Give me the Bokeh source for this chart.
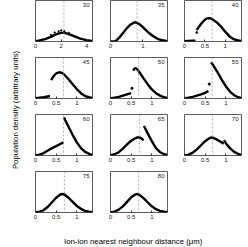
import numpy as np
from math import pi
from bokeh.plotting import figure
from bokeh.layouts import row, column
from bokeh.models import Label, Span, FixedTicker
from bokeh.embed import file_html
from bokeh.resources import INLINE

nan = np.nan

# ---- data, y in arbitrary units (0..1 of axis) ----
labels = ["30", "35", "40", "45", "50", "55", "60", "65", "70", "75", "80"]
x_max = [4.45, 1.76, 1.40, 1.38, 1.38, 1.38, 1.38, 1.38, 1.38, 1.38, 1.38]
dash_at = [2.22, 0.82, 0.68, 0.68, 0.68, 0.67, 0.68, 0.70, 0.68, 0.70, 0.68]
ticks = [[0, 2, 4], [0, 1]] + [[0, 0.5, 1]] * 9

x30 = [0, 0.25, 0.5, 0.75, 1.0, 1.25, 1.5, 1.75, 2.0, 2.25, 2.5, 2.75, 3.0, 3.25, 3.5, 3.75, 4.0, 4.25, 4.45]
y30 = [0.01, 0.02, 0.04, 0.06, 0.09, 0.12, 0.16, 0.19, 0.21, 0.21, 0.19, 0.16, 0.13, 0.10, 0.07, 0.05, 0.03, 0.02, 0.01]

x35 = [0, 0.1, 0.15, 0.2, 0.3, 0.4, 0.5, 0.6, 0.7, 0.75, 0.8, 0.9, 1.0, 1.1, 1.2, 1.3, 1.4, 1.5, 1.6, 1.76]
y35 = [0.0, 0.0, 0.01, 0.04, 0.12, 0.22, 0.32, 0.40, 0.45, 0.47, 0.46, 0.42, 0.35, 0.27, 0.20, 0.14, 0.09, 0.05, 0.03, 0.01]

x40 = [0, 0.1, 0.2, 0.27, nan, 0.3, 0.35, 0.4, 0.45, 0.5, 0.55, 0.6, 0.65, 0.7, 0.8, 0.9, 1.0, 1.1, 1.2, 1.3, 1.40]
y40 = [0.01, 0.015, 0.02, 0.02, nan, 0.28, 0.35, 0.42, 0.48, 0.53, 0.56, 0.57, 0.56, 0.53, 0.46, 0.36, 0.24, 0.13, 0.06, 0.03, 0.01]

x45 = [0, 0.1, 0.2, 0.3, 0.35, nan, 0.38, 0.42, 0.46, 0.5, 0.55, 0.6, 0.65, 0.7, 0.8, 0.9, 1.0, 1.1, 1.2, 1.3, 1.38]
y45 = [0.01, 0.02, 0.03, 0.05, 0.06, nan, 0.45, 0.52, 0.57, 0.61, 0.63, 0.64, 0.62, 0.58, 0.47, 0.35, 0.23, 0.13, 0.06, 0.03, 0.01]

x50 = [0, 0.1, 0.2, 0.3, 0.4, 0.5, nan, 0.55, 0.58, 0.61, 0.65, 0.7, 0.8, 0.9, 1.0, 1.1, 1.2, 1.3, 1.38]
y50 = [0.0, 0.02, 0.04, 0.07, 0.10, 0.13, nan, 0.68, 0.73, 0.74, 0.71, 0.64, 0.49, 0.35, 0.22, 0.13, 0.07, 0.03, 0.01]

x55 = [0, 0.1, 0.2, 0.3, 0.4, 0.5, 0.58, nan, 0.64, 0.67, 0.7, 0.8, 0.9, 1.0, 1.1, 1.2, 1.3, 1.38]
y55 = [0.0, 0.02, 0.04, 0.07, 0.10, 0.14, 0.18, nan, 0.88, 0.85, 0.80, 0.64, 0.46, 0.30, 0.17, 0.08, 0.03, 0.01]

x60 = [0, 0.1, 0.2, 0.3, 0.4, 0.5, 0.6, 0.68, nan, 0.69, 0.72, 0.8, 0.9, 1.0, 1.1, 1.2, 1.3, 1.38]
y60 = [0.0, 0.02, 0.06, 0.12, 0.18, 0.23, 0.28, 0.32, nan, 0.93, 0.86, 0.70, 0.50, 0.32, 0.18, 0.09, 0.04, 0.01]

x65 = [0, 0.1, 0.2, 0.3, 0.4, 0.5, 0.6, 0.65, 0.7, 0.75, 0.8, nan, 0.81, 0.85, 0.9, 1.0, 1.1, 1.2, 1.3, 1.38]
y65 = [0.0, 0.03, 0.08, 0.17, 0.27, 0.36, 0.42, 0.44, 0.44, 0.42, 0.37, nan, 0.72, 0.64, 0.54, 0.35, 0.18, 0.08, 0.03, 0.01]

x70 = [0, 0.1, 0.2, 0.3, 0.4, 0.5, 0.6, 0.65, 0.7, 0.8, 0.9, 0.95, nan, 0.96, 1.0, 1.1, 1.2, 1.3, 1.38]
y70 = [0.0, 0.02, 0.07, 0.15, 0.25, 0.35, 0.42, 0.44, 0.43, 0.38, 0.32, 0.29, nan, 0.38, 0.30, 0.18, 0.09, 0.04, 0.01]

x75 = [0, 0.1, 0.2, 0.3, 0.4, 0.5, 0.6, 0.65, 0.7, 0.8, 0.9, 1.0, 1.1, 1.2, 1.3, 1.38]
y75 = [0.0, 0.02, 0.06, 0.14, 0.25, 0.36, 0.44, 0.45, 0.44, 0.36, 0.26, 0.16, 0.09, 0.04, 0.02, 0.01]

x80 = [0, 0.1, 0.2, 0.3, 0.4, 0.5, 0.6, 0.65, 0.7, 0.8, 0.9, 1.0, 1.1, 1.2, 1.3, 1.38]
y80 = [0.0, 0.02, 0.07, 0.15, 0.26, 0.37, 0.44, 0.45, 0.43, 0.35, 0.25, 0.15, 0.08, 0.04, 0.02, 0.01]

# isolated / scattered points
iso_panel = ["50", "55", "30", "30", "30", "30", "30", "30", "40"]
iso_x = [0.52, 0.60, 1.2, 1.5, 1.8, 2.0, 2.25, 2.6, 0.3]
iso_y = [0.25, 0.35, 0.16, 0.22, 0.25, 0.27, 0.25, 0.21, 0.22]
iso_size = [2.2, 2.2, 1.4, 1.4, 1.4, 1.4, 1.4, 1.4, 1.8]

curves_x = [x30, x35, x40, x45, x50, x55, x60, x65, x70, x75, x80]
curves_y = [y30, y35, y40, y45, y50, y55, y60, y65, y70, y75, y80]

FONT = "Liberation Sans"
FRAME_W, FRAME_H = 57, 41
col_borders = [(5, 9), (9, 8), (9, 3)]


def panel(i, col):
    bl, br = col_borders[col]
    p = figure(frame_width=FRAME_W, frame_height=FRAME_H,
               x_range=(0, x_max[i]), y_range=(0, 1),
               min_border_left=bl, min_border_right=br,
               min_border_top=0, min_border_bottom=16,
               output_backend="svg", toolbar_location=None)
    p.grid.visible = False
    p.yaxis.visible = False
    p.outline_line_color = "#333333"
    p.outline_line_width = 0.8
    ax = p.xaxis[0]
    ax.ticker = FixedTicker(ticks=ticks[i])
    ax.axis_line_color = None
    ax.major_tick_in = 2
    ax.major_tick_out = 0
    ax.major_tick_line_color = "#333333"
    ax.minor_tick_line_color = None
    ax.major_label_standoff = 2
    ax.major_label_text_font = FONT
    ax.major_label_text_font_size = "6px"
    ax.major_label_text_color = "#222222"
    p.add_layout(Span(location=dash_at[i], dimension="height",
                      line_color="#999999", line_dash="2 2", line_width=0.8))
    p.line(curves_x[i], curves_y[i], line_color="black", line_width=2.4)
    sel = [k for k, lab in enumerate(iso_panel) if lab == labels[i]]
    if sel:
        p.scatter([iso_x[k] for k in sel], [iso_y[k] for k in sel],
                  size=[iso_size[k] for k in sel], color="black")
    p.add_layout(Label(x=x_max[i], y=1, text=labels[i], text_align="right",
                       text_baseline="top", x_offset=-3, y_offset=-2,
                       text_font=FONT, text_font_size="6px", text_color="#222222"))
    return p


rows = []
idx = 0
for r, n in enumerate([3, 3, 3, 2]):
    figs = []
    for c in range(n):
        figs.append(panel(idx, c))
        idx += 1
    rows.append(row(*figs))

ylab = figure(width=30, height=4 * 57, x_range=(0, 1), y_range=(0, 1),
              min_border=0, output_backend="svg", toolbar_location=None)
ylab.axis.visible = False
ylab.grid.visible = False
ylab.outline_line_color = None
ylab.add_layout(Label(x=0.5, y=0.52, text="Population density (arbitrary units)",
                      angle=pi / 2, text_align="center", text_baseline="middle",
                      text_font=FONT, text_font_size="7.8px", text_color="black"))

xlab = figure(width=214, height=18, x_range=(0, 1), y_range=(0, 1),
              min_border=0, output_backend="svg", toolbar_location=None)
xlab.axis.visible = False
xlab.grid.visible = False
xlab.outline_line_color = None
xlab.add_layout(Label(x=0.48, y=0.3, text="Ion-ion nearest neighbour distance (μm)",
                      text_align="center", text_baseline="middle",
                      text_font=FONT, text_font_size="7.8px", text_color="black"))

layout = row(ylab, column(*rows, xlab))

open("out.html", "w").write(file_html(layout, INLINE))
